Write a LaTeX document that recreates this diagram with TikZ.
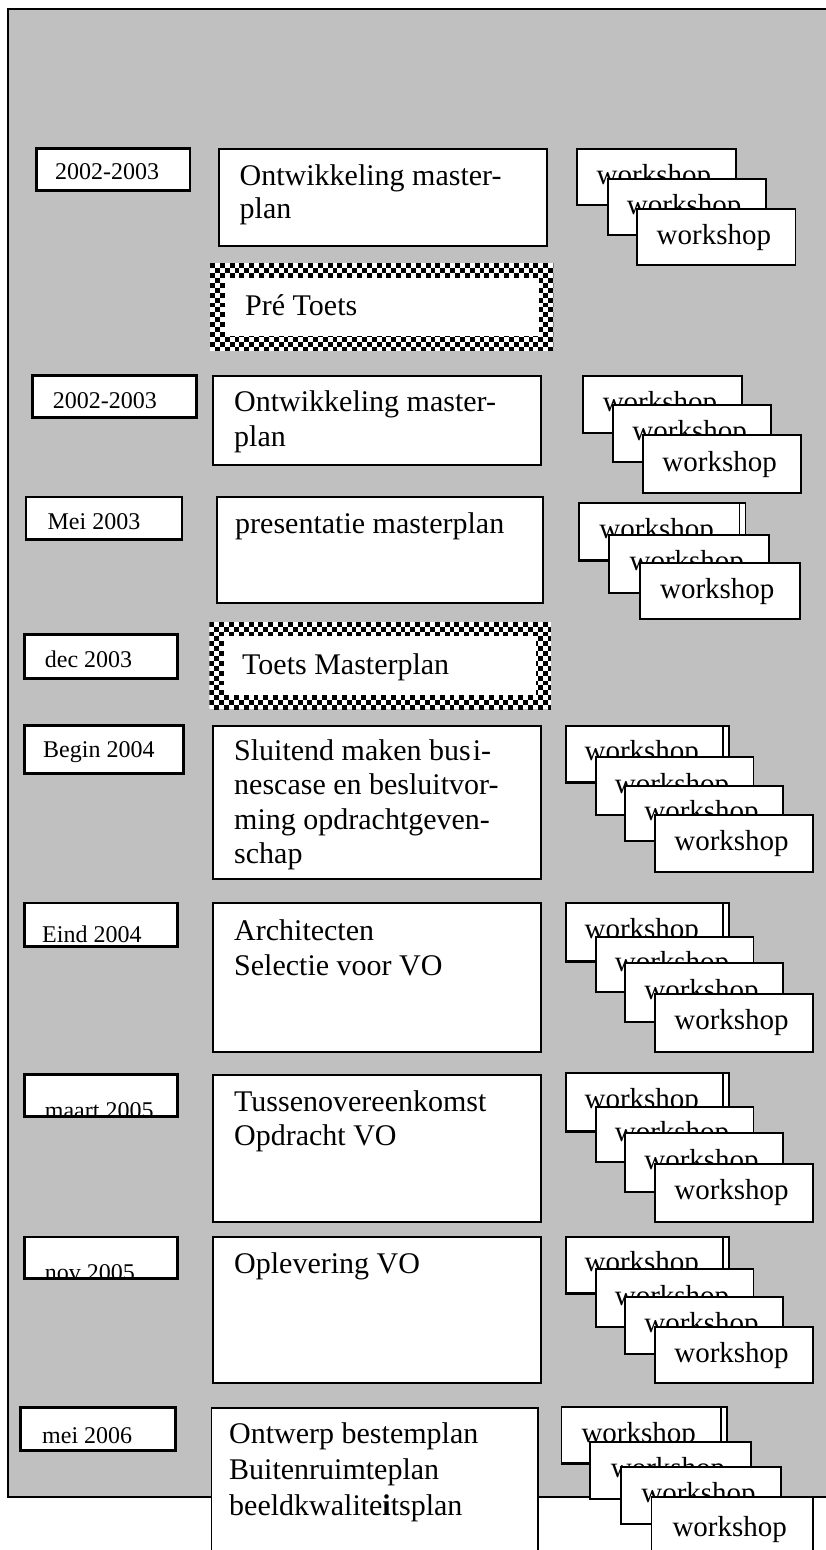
\documentclass[tikz,border=0pt]{standalone}
\usepackage{fontspec}
\setmainfont{Liberation Serif}
\usetikzlibrary{fit}
\definecolor{panelgray}{HTML}{C0C0C0}

\tikzset{
  panel/.style={draw=black, fill=panelgray, line width=1.8pt, inner sep=0pt},
  card/.style={draw=black, fill=white, line width=1.8pt, inner sep=0pt},
  cardline/.style={draw=black, line width=1.8pt},
  datetext/.style={font=\fontsize{24}{28}\selectfont, inner sep=0pt, anchor=base west},
  maintext/.style={font=\fontsize{30}{34}\selectfont, inner sep=0pt, anchor=base west},
  wstext/.style={font=\fontsize{29}{34}\selectfont, inner sep=0pt},
}

% checker square size and width of the checkered band
\def\sqsize{4.9}
\def\bandw{14.7}

% plain white card: name, x1, y1, x2, y2
\newcommand\card[5]{\node[card, fit={(#2,#3) (#4,#5)}] (#1) {};}
% workshop card
\newcommand\workshop[5]{\card{#1}{#2}{#3}{#4}{#5}%
  \node[wstext] (#1-t) at ([xshift=-2.5pt]#1.center) {workshop};}
% workshop card with a second outline peeking out on the right
\newcommand\workshopdbl[5]{\node[card, fit={(#2,#3) ({#4+6},{#5+1})}] (#1-bk) {};%
  \workshop{#1}{#2}{#3}{#4}{#5}}
% date card, its text clipped to the card: name, box, text position, text
\newcommand\datebox[8]{\card{#1}{#2}{#3}{#4}{#5}%
  \begin{scope}\clip (#2,#3) rectangle (#4,#5);
    \node[datetext] (#1-t) at (#6,#7) {#8};\end{scope}%
  \draw[cardline] (#1.north west) rectangle (#1.south east);}
% card with a checkered border: name, box, text position, text
\newcommand\checkerbox[8]{%
  \begin{scope}
    \clip (#2,#3) rectangle (#4,#5);
    \fill[white] (#2,#3) rectangle (#4,#5);
    \pgfmathtruncatemacro\ncols{ceil((#4-#2)/\sqsize)}%
    \pgfmathtruncatemacro\nrows{ceil((#5-#3)/\sqsize)}%
    \foreach \i in {0,...,\ncols}{%
      \foreach \j in {0,...,\nrows}{%
        \pgfmathtruncatemacro\parity{mod(\i+\j,2)}%
        \ifnum\parity=0
          \fill[black] ({#2+\i*\sqsize},{#3+\j*\sqsize}) rectangle ++(\sqsize,\sqsize);
        \fi}}
  \end{scope}
  \fill[white] ({#2+\bandw},{#3+\bandw}) rectangle ({#4-\bandw},{#5-\bandw});
  \node[inner sep=0pt, fit={(#2,#3) (#4,#5)}] (#1) {};
  \node[maintext] (#1-t) at (#6,#7) {#8};}

\begin{document}
\begin{tikzpicture}[x=1pt, y=-1pt]
\useasboundingbox (0,0) rectangle (825,1550);

% grey panel behind the schedule
\node[panel, fit={(8,9.3) (845,1496.7)}] (panel) {};

% --- 2002-2003: masterplan ---
\datebox{d1}{36.8}{149}{189.4}{189.7}{55}{179}{2002-2003}
\card{m1}{219}{149}{547.2}{245.7}
\node[maintext] (m1-a) at (239.5,185) {Ontwikkeling master-};
\node[maintext] (m1-b) at (239.5,218.5) {plan};
\workshop{w1a}{577.2}{149}{735.6}{205.3}
\workshop{w1b}{607.7}{179.3}{765.6}{235.3}
\workshop{w1c}{637.2}{209.3}{795.5}{265.3}

\checkerbox{c1}{210}{263.3}{553.3}{350.7}{245}{315}{Pré Toets}

% --- 2002-2003 ---
\datebox{d2}{32.6}{375.7}{195.7}{417.3}{52.6}{408}{2002-2003}
\card{m2}{213.1}{375.7}{540.9}{465}
\node[maintext] (m2-a) at (234,411.7) {Ontwikkeling master-};
\node[maintext] (m2-b) at (234,446.7) {plan};
\workshop{w2a}{583}{375.7}{741.9}{432.7}
\workshop{w2b}{613}{405.3}{771.3}{462}
\workshop{w2c}{643}{435.3}{801.3}{493.3}

% --- Mei 2003 ---
\datebox{d3}{26.3}{497.3}{181.5}{539.3}{47.4}{529}{Mei 2003}
\card{m3}{216.8}{497.3}{543}{603.3}
\node[maintext] (m3-a) at (235,533) {presentatie masterplan};
\workshopdbl{w3a}{578.8}{502.7}{739.5}{560}
\workshop{w3b}{609.3}{535}{769.2}{593}
\workshop{w3c}{639.8}{563.3}{799.8}{619.3}

% --- dec 2003 ---
\datebox{d4}{24.7}{635}{177.3}{677.7}{44.7}{667.7}{dec 2003}
\checkerbox{c2}{209.4}{621.7}{550.9}{709.3}{242}{674}{Toets Masterplan}

% --- Begin 2004 ---
\datebox{d5}{25}{725.7}{183.3}{773.3}{43}{757.3}{Begin 2004}
\card{m4}{213.1}{725.7}{540.9}{879.3}
\node[maintext] (m4-a) at (234,760) {Sluitend maken bus\kern2pt i-};
\node[maintext] (m4-b) at (234,794.5) {nescase en besluitvor-};
\node[maintext] (m4-c) at (234,829) {ming opdrachtgeven-};
\node[maintext] (m4-d) at (234,863.5) {schap};
\workshopdbl{w4a}{565.6}{725.7}{723}{781.7}
\workshop{w4b}{595.6}{757.3}{753.5}{815}
\workshop{w4c}{625}{785.7}{783}{840.7}
\workshop{w4d}{655}{815}{813}{871.7}

% --- Eind 2004 ---
\datebox{d6}{24.7}{903.3}{177.3}{945.7}{42}{942}{Eind 2004}
\card{m5}{213.1}{903.3}{540.9}{1051.7}
\node[maintext] (m5-a) at (234,940) {Architecten};
\node[maintext] (m5-b) at (234,975) {Selectie voor VO};
\workshopdbl{w5a}{565.6}{903.3}{723}{960.7}
\workshop{w5b}{595.6}{937.3}{753.5}{992.3}
\workshop{w5c}{625}{963.3}{783}{1021.7}
\workshop{w5d}{655}{994}{813}{1051.7}

% --- maart 2005 ---
\datebox{d7}{24.7}{1075}{177.3}{1115.7}{44.7}{1118}{maart 2005}
\card{m6}{213.1}{1075}{540.9}{1221.7}
\node[maintext] (m6-a) at (234,1111.7) {Tussenovereenkomst};
\node[maintext] (m6-b) at (234,1145) {Opdracht VO};
\workshopdbl{w6a}{565.6}{1073.3}{723}{1130.7}
\workshop{w6b}{595.6}{1107.3}{753.5}{1162.3}
\workshop{w6c}{625}{1133.3}{783}{1191.7}
\workshop{w6d}{655}{1164}{813}{1221.7}

% --- nov 2005 ---
\datebox{d8}{24.7}{1237.3}{177.3}{1277.7}{44.7}{1280}{nov 2005}
\card{m7}{213.1}{1237.3}{540.9}{1383.3}
\node[maintext] (m7-a) at (234,1273.3) {Oplevering VO};
\workshopdbl{w7a}{565.6}{1237.3}{723}{1292.7}
\workshop{w7b}{595.6}{1269.3}{753.5}{1327.3}
\workshop{w7c}{625}{1297.3}{783}{1354}
\workshop{w7d}{655}{1327.3}{813}{1383.3}

% --- mei 2006 ---
\datebox{d9}{21}{1407.7}{175}{1450}{42}{1443.3}{mei 2006}
\card{m8}{211.5}{1407.7}{537.7}{1570}
\node[maintext] (m8-a) at (229,1443) {Ontwerp bestemplan};
\node[maintext] (m8-b) at (229,1479) {Buitenruimteplan};
\node[maintext] (m8-c) at (229,1515) {beeldkwalite\textbf{i}tsplan};
\workshopdbl{w8a}{561.4}{1407.3}{721}{1463.3}
\workshop{w8b}{590.3}{1441.7}{750.8}{1499}
\workshop{w8c}{620.8}{1467.3}{781.3}{1524}
\workshop{w8d}{651.4}{1496.7}{813}{1562}
\end{tikzpicture}
\end{document}
